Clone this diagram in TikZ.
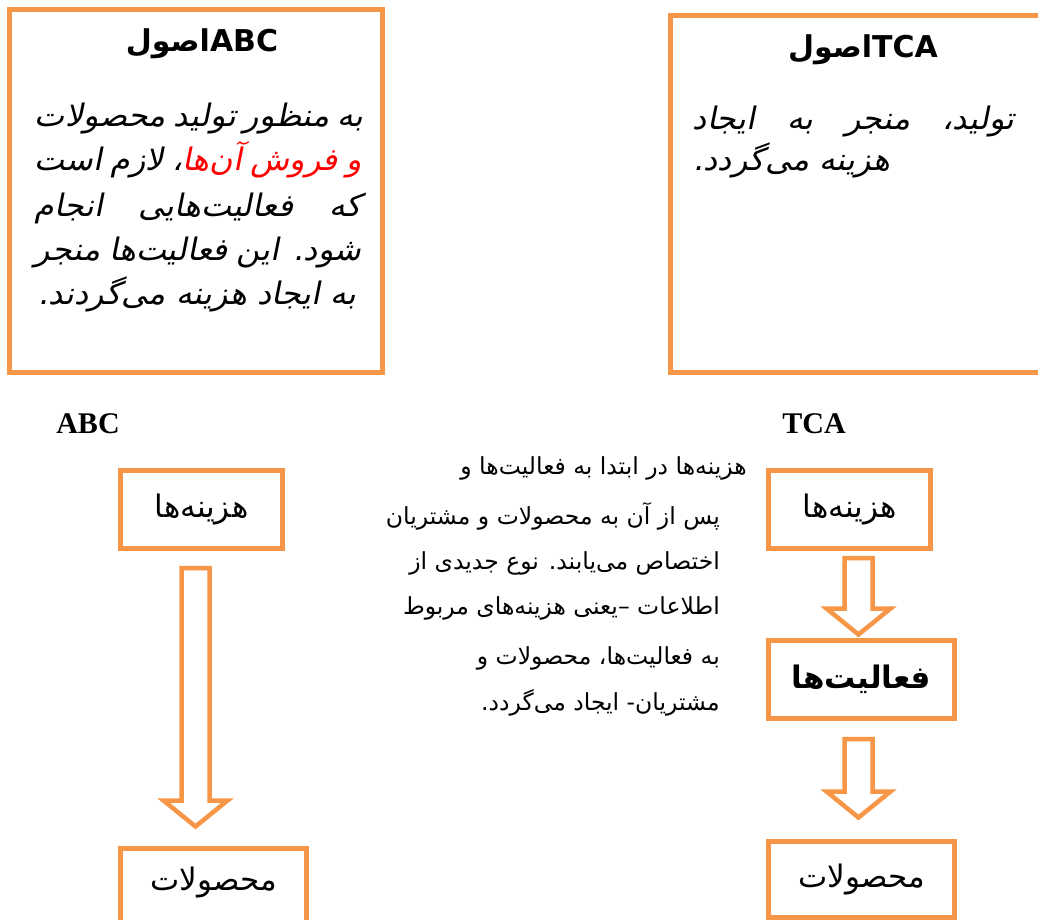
\documentclass[tikz,border=0pt]{standalone}
\usepackage{fontspec}
\usetikzlibrary{calc}
\setmainfont{DejaVu Sans}
\newfontfamily\ar[Script=Arabic]{DejaVu Sans}
\newfontfamily\arit[Script=Arabic,FakeSlant=0.2,FakeStretch=1.04]{DejaVu Sans}
\newfontfamily\aritred[Script=Arabic,FakeSlant=0.2,FakeStretch=1.04,Color=FF0000]{DejaVu Sans}
\newfontfamily\tnr{Liberation Serif}
\TeXXeTstate=1
\definecolor{orng}{HTML}{F79646}
\newcommand\jsp{\spaceskip=0.25em plus 1fil\relax}
\newcommand\blockarrow[2]{\draw[blockarr] let \p1=(#1),\p2=(#2) in
  (\x1-14pt,\y1) -- (\x1+14pt,\y1) -- (\x1+14pt,\y2+26pt) -- (\x1+32pt,\y2+26pt)
  -- (\x1,\y2) -- (\x1-32pt,\y2+26pt) -- (\x1-14pt,\y2+26pt) -- cycle;}
\begin{document}
\begin{tikzpicture}[x=1pt,y=-1pt,
  box/.style={draw=orng, line width=5pt, inner sep=0pt, fill=white},
  blockarr/.style={draw=orng, line width=4.5pt, line join=miter, fill=white},
  txt/.style={inner sep=0pt, anchor=base east},
  bodyfont/.style={font=\arit\fontsize{31}{34}\selectfont},
  titlefont/.style={font=\ar\bfseries\fontsize{30}{34}\selectfont},
  labelfont/.style={font=\ar\fontsize{31}{34}\selectfont},
  midfont/.style={font=\ar\fontsize{23.5}{28}\selectfont},
  latfont/.style={font=\tnr\bfseries\fontsize{30}{34}\selectfont}]
\useasboundingbox (0,0) rectangle (1038,920);
\clip (0,0) rectangle (1038,920);
\fill[white] (0,0) rectangle (1038,920);

% top boxes
\node[box, minimum width=373pt, minimum height=363pt] (abcBox) at (196,191) {};
\node[box, minimum width=400pt, minimum height=357pt] (tcaBox) at (870.5,194) {};

\node[titlefont, inner sep=0pt, anchor=base] (abcTitle) at (202,52) {\beginR اصول\endR ABC};
\node[titlefont, inner sep=0pt, anchor=base] (tcaTitle) at (863,58) {\beginR اصول\endR TCA};

\node[txt, bodyfont] (abcL1) at (362,127) {\hbox to 327pt{\jsp\beginR به منظور تولید محصولات\endR}};
\node[txt, bodyfont] (abcL2) at (362,171) {\hbox to 327pt{\jsp\beginR {\aritred و فروش آن^^^^200cها}، لازم است\endR}};
\node[txt, bodyfont] (abcL3) at (362,216) {\hbox to 327pt{\jsp\beginR که فعالیت^^^^200cهایی انجام\endR}};
\node[txt, bodyfont] (abcL4) at (362,260) {\hbox to 327pt{\jsp\beginR شود. این فعالیت^^^^200cها منجر\endR}};
\node[txt, bodyfont] (abcL5) at (357,304) {\beginR به ایجاد هزینه می^^^^200cگردند.\endR};

\node[txt, bodyfont] (tcaL1) at (1015,130) {\hbox to 322pt{\jsp\beginR تولید، منجر به ایجاد\endR}};
\node[bodyfont, inner sep=0pt, anchor=base west] (tcaL2) at (693,171) {\beginR هزینه می^^^^200cگردد.\endR};

% lower labels
\node[latfont, inner sep=0pt] (abcLab) at (88,424) {ABC};
\node[latfont, inner sep=0pt] (tcaLab) at (814,424) {TCA};

% ABC chain
\node[box, labelfont, minimum width=162pt, minimum height=78pt] (abcCost) at (201.5,509.5) {\beginR هزینه^^^^200cها\endR};
\node[box, minimum width=186pt, minimum height=90pt, anchor=north] (abcProd) at (213.5,845.5) {};
\node[labelfont, inner sep=0pt] (abcProdT) at ($(abcProd.north)+(0,37)$) {\beginR محصولات\endR};
\coordinate (a1s) at ($(abcCost.south)+(-6,17)$);
\coordinate (a1t) at ($(abcProd.north)+(-18,-19)$);
\blockarrow{a1s}{a1t}

% TCA chain
\node[box, font=\ar\fontsize{31}{34}\selectfont, minimum width=162pt, minimum height=78pt] (tcaCost) at (849.5,509.5) {\beginR هزینه^^^^200cها\endR};
\node[box, font=\ar\bfseries\fontsize{31}{34}\selectfont, minimum width=186pt, minimum height=78pt] (tcaAct) at (861.5,679.5) {\beginR فعالیت^^^^200cها\endR};
\node[box, labelfont, minimum width=186pt, minimum height=76pt] (tcaProd) at (861.5,879.5) {\beginR محصولات\endR};
\coordinate (t1s) at ($(tcaCost.south)+(9,7)$);
\coordinate (t1t) at ($(tcaAct.north)+(-3,-3.5)$);
\blockarrow{t1s}{t1t}
\coordinate (t2s) at ($(tcaAct.south)+(-3,18)$);
\coordinate (t2t) at ($(tcaProd.north)+(-3,-21.5)$);
\blockarrow{t2s}{t2t}

% middle text
\node[txt, midfont] (m1) at (747,474) {\beginR هزینه^^^^200cها در ابتدا به فعالیت^^^^200cها و\endR};
\node[txt, midfont] (m2) at (720,524) {\beginR پس از آن به محصولات و مشتریان\endR};
\node[txt, midfont] (m3) at (720,569) {\beginR اختصاص می^^^^200cیابند. نوع جدیدی از\endR};
\node[txt, midfont] (m4) at (720,614) {\beginR اطلاعات –یعنی هزینه^^^^200cهای مربوط\endR};
\node[txt, midfont] (m5) at (720,664) {\beginR به فعالیت^^^^200cها، محصولات و\endR};
\node[txt, midfont] (m6) at (720,710) {\beginR مشتریان- ایجاد می^^^^200cگردد.\endR};
\end{tikzpicture}
\end{document}
